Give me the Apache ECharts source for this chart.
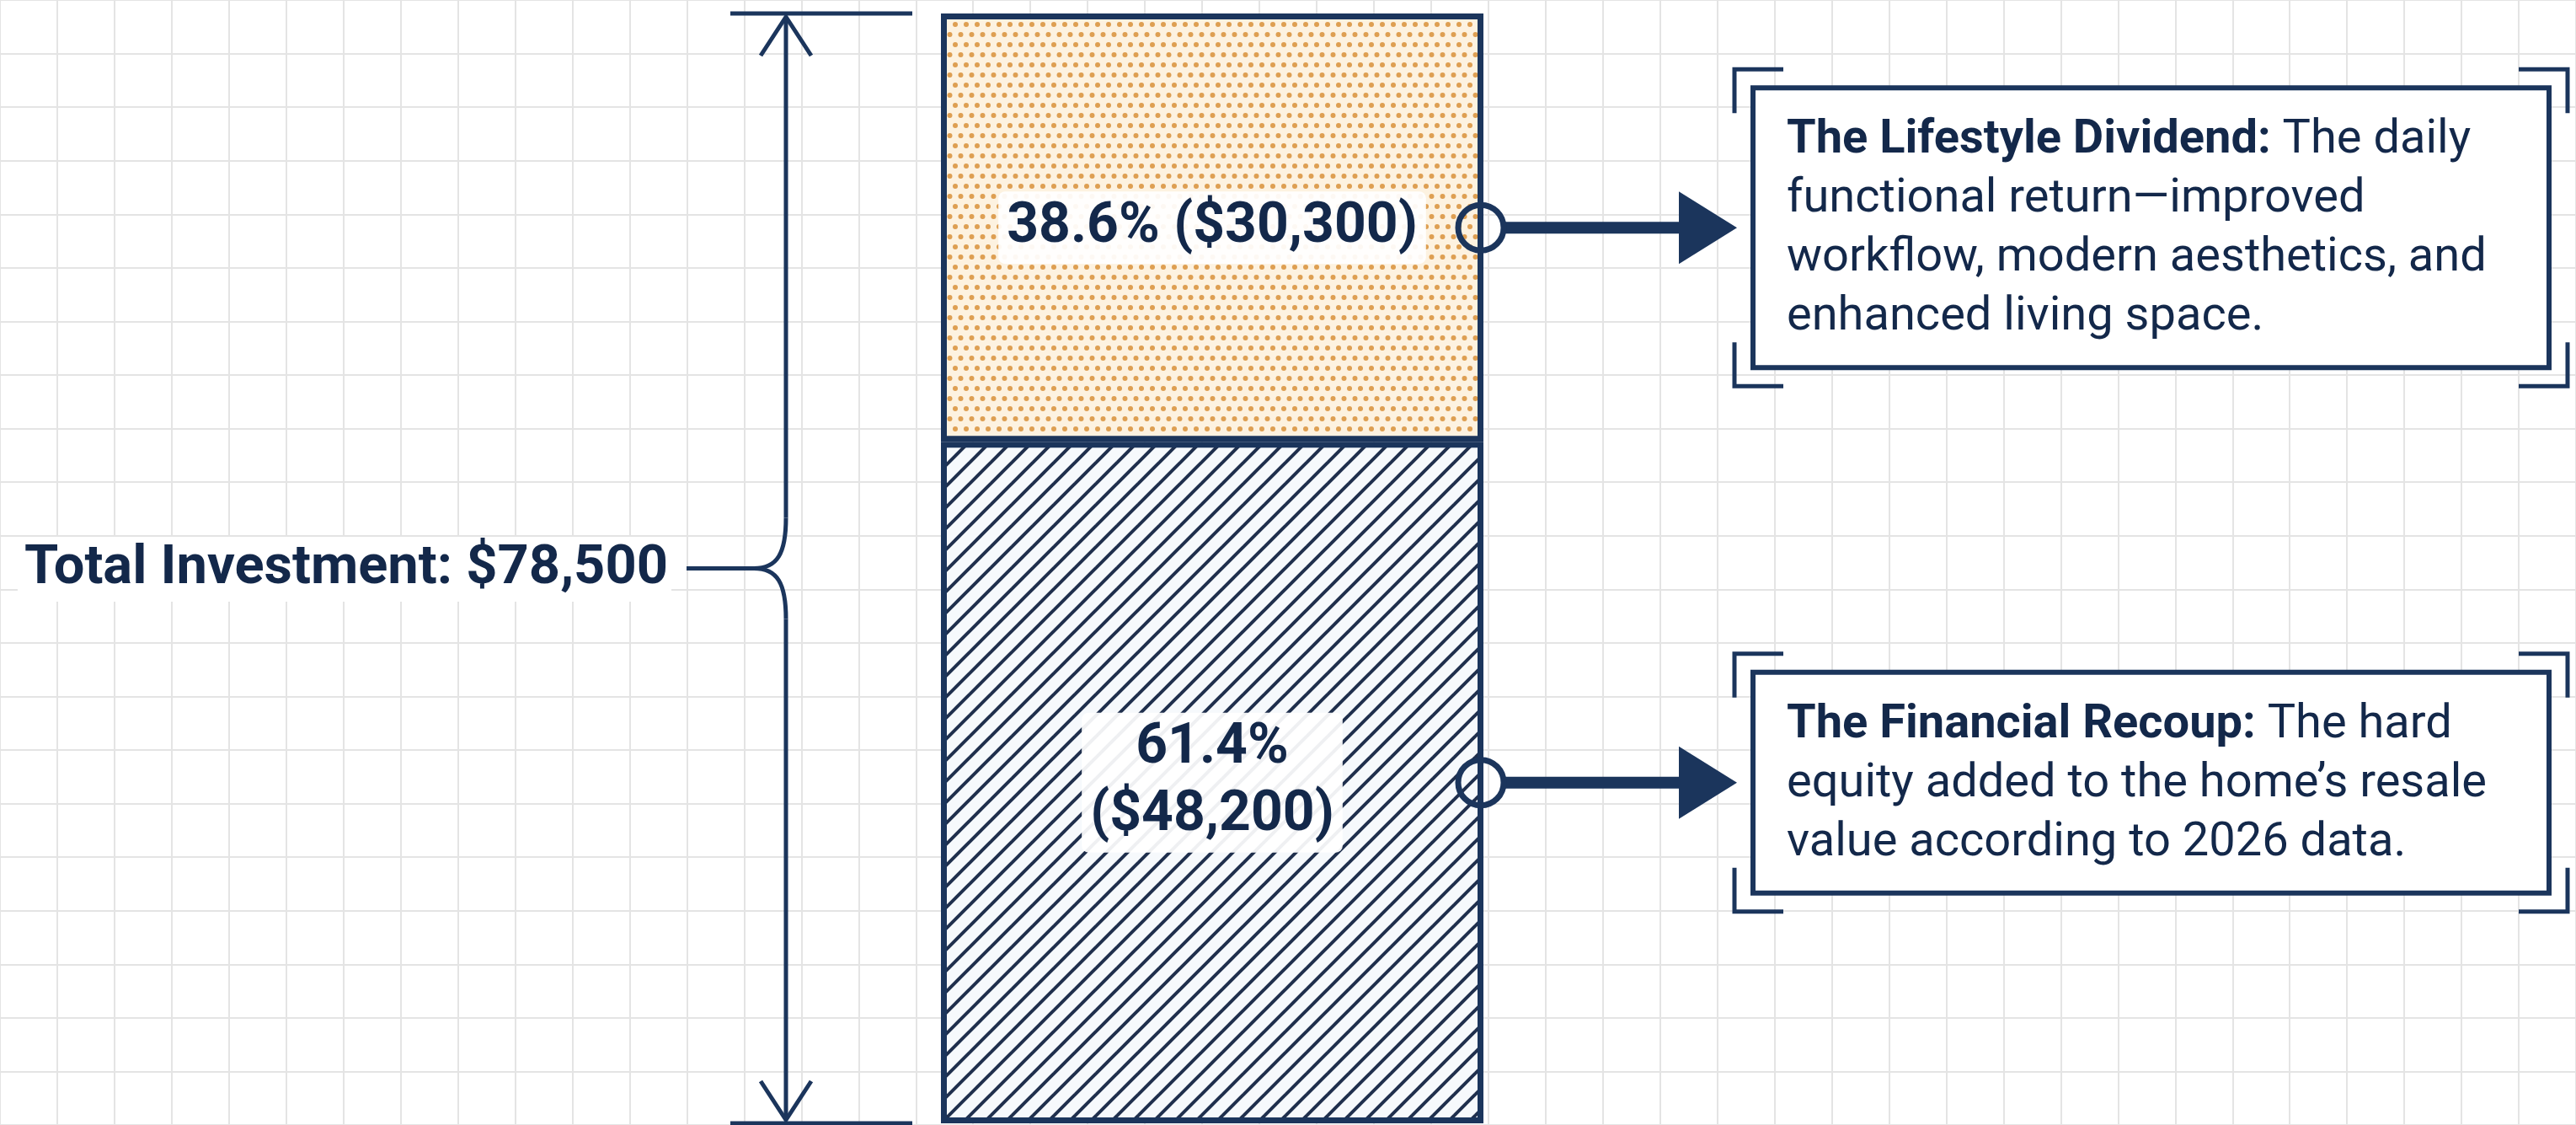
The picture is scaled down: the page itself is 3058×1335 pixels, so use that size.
<!DOCTYPE html>
<html>
<head>
<meta charset="utf-8">
<script src="https://cdn.jsdelivr.net/npm/echarts@6/dist/echarts.min.js"></script>
<style>
  html, body { margin: 0; padding: 0; background: #ffffff; }
  #main { width: 3058px; height: 1335px; }
</style>
</head>
<body>
<div id="main"></div>
<script>
// ---------------- DATA ----------------
const categories = ['Total Investment'];
const segmentNames = ['The Financial Recoup', 'The Lifestyle Dividend'];
const segmentValues = [48200, 30300];
const segmentPercents = [61.4, 38.6];
const segmentLabelBreak = [true, false];
const segmentDescLines = [
  ['The hard', 'equity added to the home\u2019s resale', 'value according to 2026 data.'],
  ['The daily', 'functional return\u2014improved', 'workflow, modern aesthetics, and', 'enhanced living space.']
];
const totalLabelPrefix = 'Total Investment: ';

// ---------------- STYLE ----------------
const NAVY = '#1b355c';
const TEXT = '#13284a';
const GRID = '#e4e4e4';
const FONT = 'Roboto';

function money(v) { return '$' + v.toLocaleString('en-US'); }
const total = segmentValues.reduce((a, b) => a + b, 0);

// pattern: dots (staggered lattice)
function dotsPattern() {
  const c = document.createElement('canvas');
  const sx = 13, sy = 12, cols = 4, rows = 4;
  c.width = sx * cols; c.height = sy * rows;
  const g = c.getContext('2d');
  g.fillStyle = '#fdf2e0';
  g.fillRect(0, 0, c.width, c.height);
  g.fillStyle = '#de9f52';
  for (let r = 0; r < rows; r++) {
    for (let k = -1; k <= cols; k++) {
      const x = k * sx + (r % 2 ? sx / 2 : 0) + 3;
      const y = r * sy + 5;
      g.beginPath(); g.arc(x, y, 3.0, 0, Math.PI * 2); g.fill();
    }
  }
  return c;
}
// pattern: diagonal stripes
function stripesPattern() {
  const c = document.createElement('canvas');
  const s = 25;
  c.width = s; c.height = s;
  const g = c.getContext('2d');
  g.fillStyle = '#f6f9fc';
  g.fillRect(0, 0, s, s);
  g.strokeStyle = '#1f2f4d';
  g.lineWidth = 4;
  for (let k = 0; k <= 2; k++) {
    g.beginPath();
    g.moveTo(-s, k * s + s);
    g.lineTo(k * s + s, -s);
    g.stroke();
  }
  return c;
}
const patterns = [
  { image: stripesPattern(), repeat: 'repeat' },
  { image: dotsPattern(), repeat: 'repeat' }
];

// stacked segments
let acc = 0;
const segData = segmentValues.map((v, i) => { const s = acc; acc += v; return [0, s, acc, i]; });

const chart = echarts.init(document.getElementById('main'));

const barSeries = segmentValues.map((v, i) => ({
  type: 'bar',
  name: segmentNames[i],
  stack: 'total',
  xAxisIndex: 0, yAxisIndex: 0,
  barWidth: '100%',
  data: [v],
  z: 3,
  itemStyle: { color: patterns[i], borderColor: NAVY, borderWidth: 7 },
  label: {
    show: true,
    position: 'inside',
    formatter: () => segmentPercents[i].toFixed(1) + '%' + (segmentLabelBreak[i] ? '\n' : ' ') + '(' + money(v) + ')',
    fontFamily: FONT, fontSize: 66, fontWeight: 'bold', color: TEXT,
    lineHeight: 80,
    backgroundColor: 'rgba(255,255,255,0.93)',
    padding: [4, 10, 2, 10],
    borderRadius: 8
  }
}));

const connectorSeries = {
  type: 'custom',
  coordinateSystem: 'cartesian2d',
  xAxisIndex: 0, yAxisIndex: 0,
  clip: false,
  z: 5,
  data: segData,
  encode: { x: 0, y: [1, 2] },
  renderItem: function (params, api) {
    const i = api.value(3);
    const s = api.value(1), e = api.value(2);
    const mid = api.coord([0, (s + e) / 2]);
    const bw = api.size([0, 0])[0];
    const right = mid[0] + bw / 2;
    const y = mid[1];
    const lines = segmentDescLines[i];
    const lh = 70;
    const bx = right + 320, bwid = 945;
    const bh = (lines.length - 1) * lh + 122;
    const by = y - bh / 2;
    const off = 22, ah = 58, av = 52;
    const L = bx - off, R = bx + bwid + off, T = by - off, B = by + bh + off;
    const txt = '{b|' + segmentNames[i] + ':} {n|' + lines[0] + '}\n' +
      lines.slice(1).map(l => '{n|' + l + '}').join('\n');
    const base = { fontFamily: FONT, fontSize: 56, lineHeight: lh, fill: TEXT, color: TEXT };
    return {
      type: 'group',
      children: [
        { type: 'line', shape: { x1: right + 24, y1: y, x2: right + 245, y2: y }, style: { stroke: NAVY, lineWidth: 14 } },
        { type: 'circle', shape: { cx: right - 3, cy: y, r: 27 }, style: { fill: 'transparent', stroke: NAVY, lineWidth: 7 } },
        { type: 'polygon', shape: { points: [[right + 232, y - 43], [right + 301, y], [right + 232, y + 43]] }, style: { fill: NAVY } },
        { type: 'rect', shape: { x: bx, y: by, width: bwid, height: bh }, style: { fill: '#ffffff', stroke: NAVY, lineWidth: 6 } },
        { type: 'polyline', shape: { points: [[L, T + av], [L, T], [L + ah, T]] }, style: { stroke: NAVY, lineWidth: 5, fill: null } },
        { type: 'polyline', shape: { points: [[R - ah, T], [R, T], [R, T + av]] }, style: { stroke: NAVY, lineWidth: 5, fill: null } },
        { type: 'polyline', shape: { points: [[L, B - av], [L, B], [L + ah, B]] }, style: { stroke: NAVY, lineWidth: 5, fill: null } },
        { type: 'polyline', shape: { points: [[R - ah, B], [R, B], [R, B - av]] }, style: { stroke: NAVY, lineWidth: 5, fill: null } },
        {
          type: 'text',
          x: bx + 40, y: y + 2,
          style: Object.assign({
            text: txt,
            align: 'left', verticalAlign: 'middle',
            textAlign: 'left', textVerticalAlign: 'middle',
            rich: {
              b: Object.assign({}, base, { fontWeight: 'bold' }),
              n: Object.assign({}, base, { fontWeight: 'normal' })
            }
          }, base)
        }
      ]
    };
  }
};

const dimensionSeries = {
  type: 'custom',
  coordinateSystem: 'cartesian2d',
  xAxisIndex: 0, yAxisIndex: 0,
  clip: false,
  z: 4,
  data: [[0, 0, total]],
  encode: { x: 0, y: [1, 2] },
  renderItem: function (params, api) {
    const t = api.value(2);
    const pTop = api.coord([0, t]);
    const pBot = api.coord([0, 0]);
    const pMid = api.coord([0, t / 2]);
    const bw = api.size([0, 0])[0];
    const left = pTop[0] - bw / 2;
    const x = left - 184;
    const yT = pTop[1], yB = pBot[1], yM = pMid[1];
    const st = { stroke: NAVY, lineWidth: 5, fill: null };
    return {
      type: 'group',
      children: [
        { type: 'line', shape: { x1: x - 66, y1: yT, x2: x + 150, y2: yT }, style: st },
        { type: 'line', shape: { x1: x - 66, y1: yB, x2: x + 150, y2: yB }, style: st },
        { type: 'polyline', shape: { points: [[x - 30, yT + 50], [x, yT + 4], [x + 30, yT + 50]] }, style: st },
        { type: 'polyline', shape: { points: [[x - 30, yB - 50], [x, yB - 4], [x + 30, yB - 50]] }, style: st },
        { type: 'line', shape: { x1: x, y1: yT + 4, x2: x, y2: yM - 60 }, style: st },
        { type: 'line', shape: { x1: x, y1: yM + 60, x2: x, y2: yB - 4 }, style: st },
        { type: 'bezierCurve', shape: { x1: x, y1: yM - 60, cpx1: x, cpy1: yM - 18, cpx2: x - 10, cpy2: yM, x2: x - 38, y2: yM }, style: st },
        { type: 'bezierCurve', shape: { x1: x - 38, y1: yM, cpx1: x - 10, cpy1: yM, cpx2: x, cpy2: yM + 18, x2: x, y2: yM + 60 }, style: st },
        { type: 'line', shape: { x1: x - 118, y1: yM, x2: x - 38, y2: yM }, style: st },
        {
          type: 'text',
          x: x - 136, y: yM + 1,
          style: {
            text: totalLabelPrefix + money(t),
            align: 'right', verticalAlign: 'middle',
            textAlign: 'right', textVerticalAlign: 'middle',
            fontFamily: FONT, fontSize: 65, fontWeight: 'bold',
            fill: TEXT,
            backgroundColor: '#ffffff',
            padding: [6, 4, 6, 8]
          }
        }
      ]
    };
  }
};

const option = {
  backgroundColor: '#ffffff',
  animation: false,
  grid: [
    { left: 1117, width: 644, top: 16, bottom: 2 },
    { left: -17, top: -55, width: 3105, height: 1449, z: 0 }
  ],
  xAxis: [
    { type: 'category', data: categories, gridIndex: 0, show: false },
    { type: 'value', gridIndex: 1, min: 0, max: 3105, interval: 69,
      axisLine: { show: false }, axisTick: { show: false }, axisLabel: { show: false },
      splitLine: { show: true, lineStyle: { color: GRID, width: 2 } } }
  ],
  yAxis: [
    { type: 'value', gridIndex: 0, min: 0, max: total, show: false },
    { type: 'value', gridIndex: 1, min: 0, max: 1449, interval: 69,
      axisLine: { show: false }, axisTick: { show: false }, axisLabel: { show: false },
      splitLine: { show: true, lineStyle: { color: GRID, width: 2 } } }
  ],
  series: barSeries.concat([connectorSeries, dimensionSeries])
};
chart.setOption(option);
</script>
</body>
</html>
